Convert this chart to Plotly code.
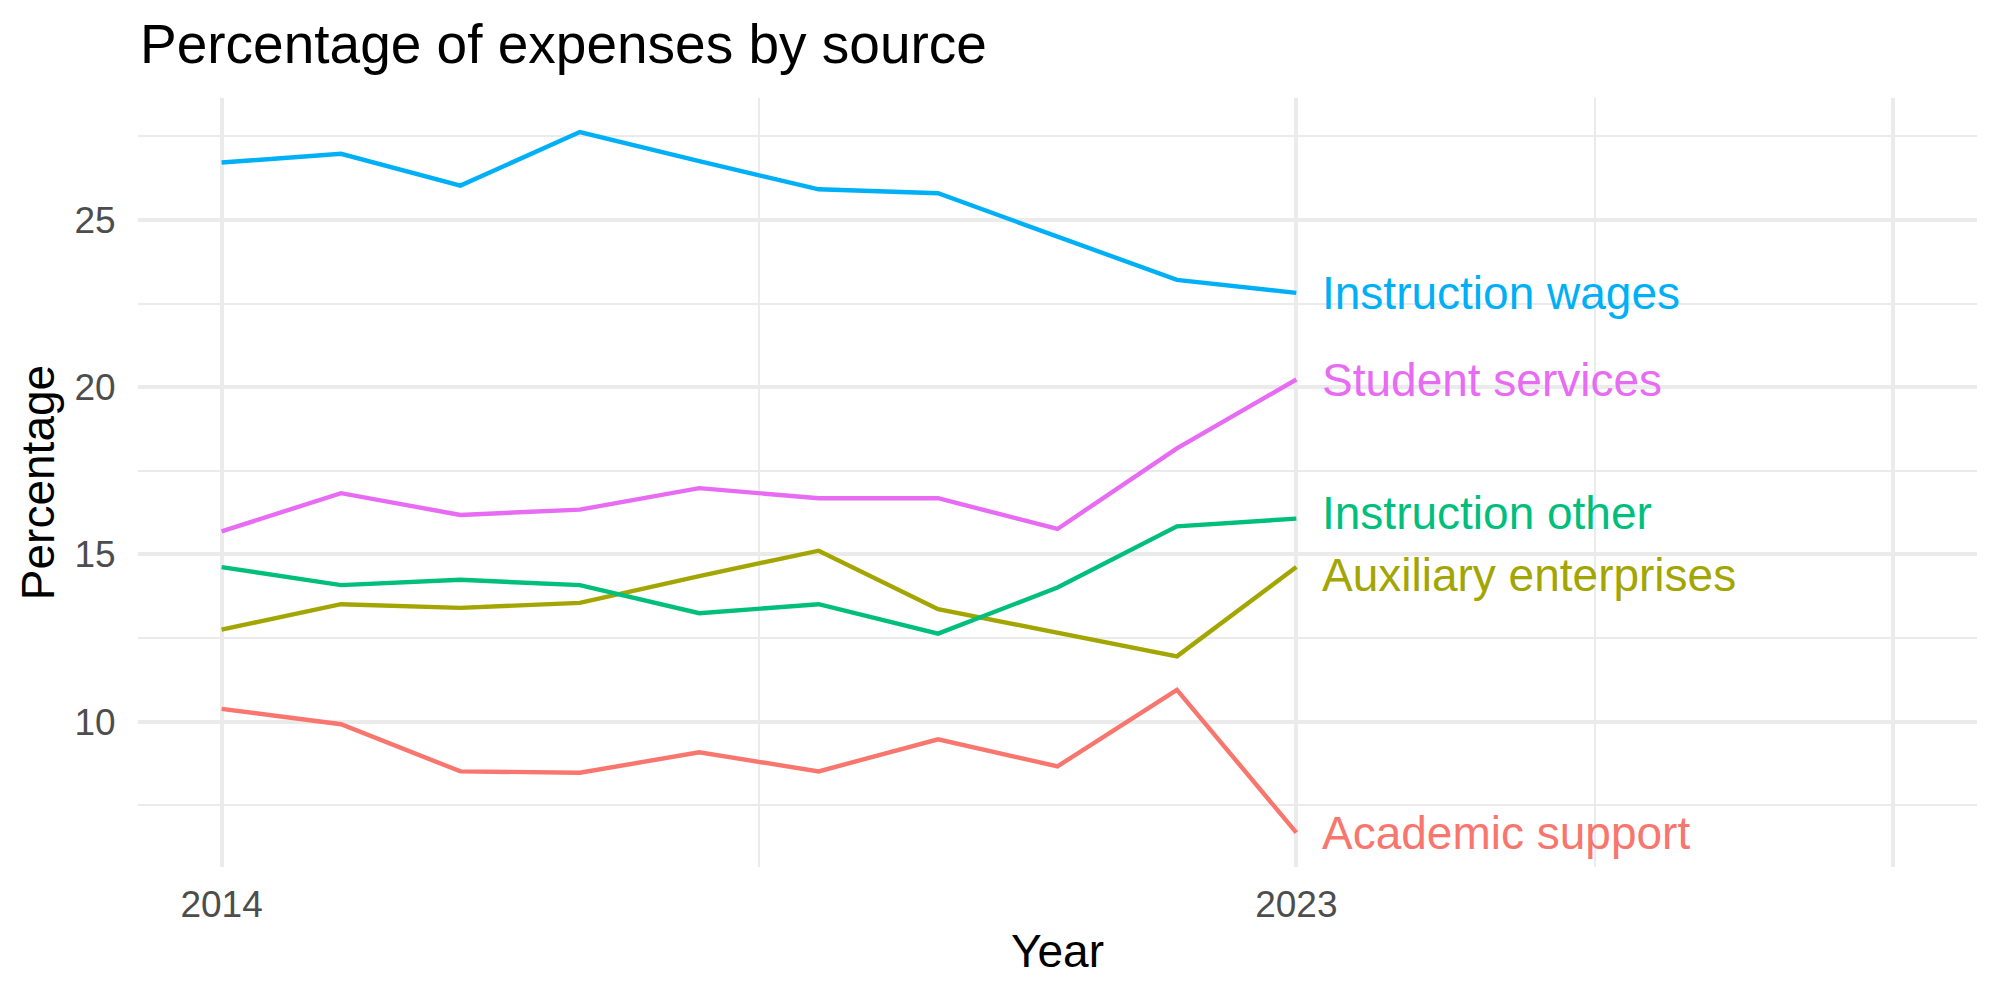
import plotly.graph_objects as go

years = [2014, 2015, 2016, 2017, 2018, 2019, 2020, 2021, 2022, 2023]

academic_support = [10.38, 9.92, 8.51, 8.47, 9.08, 8.51, 9.47, 8.66, 10.95, 6.68]
auxiliary_enterprises = [12.75, 13.51, 13.40, 13.55, 14.35, 15.11, 13.36, 12.67, 11.95, 14.62]
instruction_other = [14.62, 14.08, 14.24, 14.08, 13.24, 13.51, 12.63, 14.01, 15.84, 16.07]
instruction_wages = [26.72, 26.98, 26.03, 27.63, 26.76, 25.92, 25.80, 24.50, 23.21, 22.82]
student_services = [15.69, 16.83, 16.18, 16.34, 16.98, 16.68, 16.68, 15.76, 18.17, 20.23]

series_names = ["Academic support", "Auxiliary enterprises", "Instruction other",
                "Instruction wages", "Student services"]
series_values = [academic_support, auxiliary_enterprises, instruction_other,
                 instruction_wages, student_services]
colors = ["#F8766D", "#A3A500", "#00BF7D", "#00B0F6", "#E76BF3"]
label_yshift = [0, -8, 6, 0, 0]

x_tickvals = [2014, 2023, 2028]
x_ticktext = ["2014", "2023", ""]
x_minor = [2018.5, 2025.5]
y_tickvals = [10, 15, 20, 25]
y_minor = [7.5, 12.5, 17.5, 22.5, 27.5]

FONT = "Liberation Sans, Arial, sans-serif"
GRID = "#EBEBEB"

fig = go.Figure()
for name, vals, col in zip(series_names, series_values, colors):
    fig.add_trace(go.Scatter(x=years, y=vals, mode="lines", name=name,
                             line=dict(color=col, width=4.4), showlegend=False))

for name, vals, col, ys in zip(series_names, series_values, colors, label_yshift):
    fig.add_annotation(x=years[-1], y=vals[-1], text=name, showarrow=False,
                       xanchor="left", yanchor="middle", xshift=24, yshift=ys,
                       font=dict(family=FONT, size=46, color=col))

fig.update_layout(
    width=2000, height=1000,
    margin=dict(l=138, r=23, t=98, b=133),
    paper_bgcolor="white", plot_bgcolor="white",
    font=dict(family=FONT),
    title=dict(text="Percentage of expenses by source", x=0.07, xanchor="left",
               xref="container", y=1 - 44 / 1000, yanchor="middle", yref="container",
               font=dict(family=FONT, size=55, color="black")),
    xaxis=dict(range=[2013.3, 2028.7], tickvals=x_tickvals, ticktext=x_ticktext,
               showgrid=True, gridcolor=GRID, gridwidth=4, zeroline=False,
               showline=False, ticks="outside", ticklen=5, tickcolor="rgba(0,0,0,0)",
               tickfont=dict(family=FONT, size=37, color="#4D4D4D"),
               minor=dict(tickvals=x_minor, showgrid=True, gridcolor=GRID, gridwidth=2, ticks=""),
               title=dict(text="Year", font=dict(family=FONT, size=46, color="black"), standoff=10)),
    yaxis=dict(range=[5.65, 28.65], tickvals=y_tickvals,
               showgrid=True, gridcolor=GRID, gridwidth=4, zeroline=False,
               showline=False, ticks="outside", ticklen=14, tickcolor="rgba(0,0,0,0)",
               tickfont=dict(family=FONT, size=37, color="#4D4D4D"),
               minor=dict(tickvals=y_minor, showgrid=True, gridcolor=GRID, gridwidth=2, ticks=""),
               title=dict(text="Percentage", font=dict(family=FONT, size=46, color="black"), standoff=5)),
)

fig.write_html("out.html")
